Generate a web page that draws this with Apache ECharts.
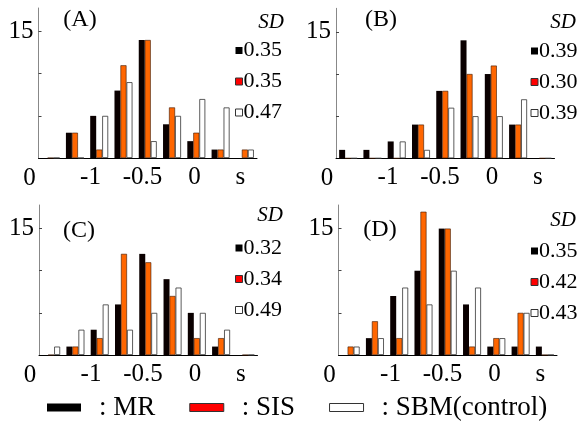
<!DOCTYPE html>
<html>
<head>
<meta charset="utf-8">
<script src="https://cdn.jsdelivr.net/npm/echarts@6.0.0/dist/echarts.min.js"></script>
<style>
  html, body { margin: 0; padding: 0; background: #fff; }
  #chart { width: 587px; height: 423px; }
</style>
</head>
<body>
<div id="chart"></div>
<script>
// bins (9 per panel)
const bins = ['1', '2', '3', '4', '5', '6', '7', '8', '9']
const seriesNames = ['MR', 'SIS', 'SBM(control)']

// (A)
const mrA = [0, 3, 5, 8, 14, 4, 2, 1, 0]
const sisA = [0, 3, 1, 11, 14, 6, 3, 1, 1]
const sbmA = [0, 0, 5, 9, 2, 5, 7, 6, 1]
const sdA = ['0.35', '0.35', '0.47']

// (B)
const mrB = [1, 1, 2, 4, 8, 14, 10, 4, 0]
const sisB = [0, 0, 0, 4, 8, 10, 11, 4, 0]
const sbmB = [0, 0, 2, 1, 6, 5, 5, 7, 0]
const sdB = ['0.39', '0.30', '0.39']

// (C)
const mrC = [0, 1, 3, 6, 12, 9, 5, 1, 0]
const sisC = [0, 1, 2, 12, 11, 7, 2, 2, 0]
const sbmC = [1, 3, 6, 3, 5, 8, 5, 3, 0]
const sdC = ['0.32', '0.34', '0.49']

// (D)
const mrD = [0, 2, 7, 10, 15, 6, 1, 1, 1]
const sisD = [1, 4, 2, 17, 15, 1, 2, 5, 0]
const sbmD = [1, 2, 8, 6, 10, 8, 2, 5, 0]
const sdD = ['0.35', '0.42', '0.43']

// axis ticks / labels
const xTickValues = [-1, -0.5, 0]
const xUnitPos = 0.44
const xUnitLabel = 's'
const yTickValues = [5, 10, 15]
const yLabelValues = [15]

const FONT = 'Liberation Serif'
const colors = { mr: '#0a0000', sis: '#ff6600', sbm: '#ffffff', edge: '#333333' }

const panels = [
  { name: '(A)', values: [mrA, sisA, sbmA], sd: sdA, left: 38.5, top: 8, legLeft: 235, legTop: 39.5, sdX: 271, sdY: 22, nameX: 80, nameY: 20 },
  { name: '(B)', values: [mrB, sisB, sbmB], sd: sdB, left: 336, top: 8.3, legLeft: 530.5, legTop: 40, sdX: 563, sdY: 22, nameX: 381, nameY: 20 },
  { name: '(C)', values: [mrC, sisC, sbmC], sd: sdC, left: 39, top: 205, legLeft: 235, legTop: 237, sdX: 270, sdY: 215, nameX: 79, nameY: 231 },
  { name: '(D)', values: [mrD, sisD, sbmD], sd: sdD, left: 338.5, top: 205, legLeft: 530.5, legTop: 240, sdX: 563, sdY: 220, nameX: 380, nameY: 230 },
]
const GRID_W = 218.5
const GRID_H = 150

const legendItems = [
  { name: 'MR', itemStyle: { color: '#000' } },
  { name: 'SIS', itemStyle: { color: '#ff0000', borderColor: colors.edge, borderWidth: 1 } },
  { name: 'SBM(control)', itemStyle: { color: '#fff', borderColor: colors.edge, borderWidth: 1 } },
]

function barStyle(k) {
  if (k === 0) return { color: colors.mr }
  if (k === 1) return { color: colors.sis, borderColor: '#3a1500', borderWidth: 0.6 }
  return { color: colors.sbm, borderColor: colors.edge, borderWidth: 0.8 }
}

const grid = []
const xAxis = []
const yAxis = []
const series = []
const legend = []
const graphic = []

panels.forEach((p, i) => {
  grid.push({ left: p.left, top: p.top, width: GRID_W, height: GRID_H, outerBoundsMode: 'none' })

  // category axis for the bars
  xAxis.push({
    type: 'category',
    gridIndex: i,
    position: 'bottom',
    data: bins,
    axisLine: { onZero: false, lineStyle: { color: '#000', width: 1 } },
    axisTick: { show: false },
    axisLabel: { show: false },
    splitLine: { show: false },
  })
  // value axis only for the s labels
  xAxis.push({
    type: 'value',
    gridIndex: i,
    position: 'bottom',
    min: -1.5,
    max: 0.6,
    axisLine: { show: false, onZero: false },
    axisTick: { show: false },
    splitLine: { show: false },
    axisLabel: {
      customValues: [...xTickValues, xUnitPos],
      formatter: (v) => (v === xUnitPos ? xUnitLabel : String(v)),
      fontSize: 25,
      fontFamily: FONT,
      color: '#000',
      margin: 7,
    },
  })

  yAxis.push({
    type: 'value',
    gridIndex: i,
    min: 0,
    max: 17.8,
    axisLine: { show: true, onZero: false, lineStyle: { color: '#888', width: 1 } },
    axisTick: { show: true, inside: true, length: 3, customValues: yTickValues, lineStyle: { color: '#444' } },
    axisLabel: { customValues: yLabelValues, fontSize: 25, fontFamily: FONT, color: '#000', margin: 5 },
    splitLine: { show: false },
  })

  p.values.forEach((vals, k) => {
    series.push({
      name: seriesNames[k],
      type: 'bar',
      xAxisIndex: i * 2,
      yAxisIndex: i,
      barWidth: 6,
      barGap: '0%',
      itemStyle: barStyle(k),
      data: vals,
    })
  })

  // SD legend per panel
  legend.push({
    data: legendItems,
    orient: 'vertical',
    left: p.legLeft,
    top: p.legTop,
    padding: 0,
    icon: 'rect',
    itemWidth: 7,
    itemHeight: 7,
    itemGap: 9,
    selectedMode: false,
    formatter: (name) => p.sd[seriesNames.indexOf(name)],
    textStyle: { fontSize: 22, lineHeight: 21, fontFamily: FONT, color: '#000', padding: [0, 0, 0, -4] },
  })

  const txt = (text, x, y, size, italic) => ({
    type: 'text',
    x,
    y,
    style: {
      text,
      fill: '#000',
      font: (italic ? 'italic ' : '') + size + 'px "' + FONT + '"',
      align: 'center',
      verticalAlign: 'middle',
    },
  })
  graphic.push(txt(p.name, p.nameX, p.nameY, 24, false))
  graphic.push(txt('SD', p.sdX, p.sdY, 21, true))
  graphic.push(txt('0', p.left - 9, p.top + GRID_H + 20, 25, false))
})

// bottom legend
legend.push({
  data: legendItems,
  left: 47,
  top: 394,
  padding: 0,
  icon: 'rect',
  itemWidth: 34,
  itemHeight: 8,
  itemGap: 34,
  selectedMode: false,
  formatter: (name) => ': ' + name,
  textStyle: { fontSize: 27, fontFamily: FONT, color: '#000', padding: [0, 0, 0, 13] },
})

const chart = echarts.init(document.getElementById('chart'), null, { renderer: 'canvas' })
chart.setOption({
  animation: false,
  backgroundColor: '#fff',
  textStyle: { fontFamily: FONT },
  grid,
  xAxis,
  yAxis,
  series,
  legend,
  graphic,
})
</script>
</body>
</html>
